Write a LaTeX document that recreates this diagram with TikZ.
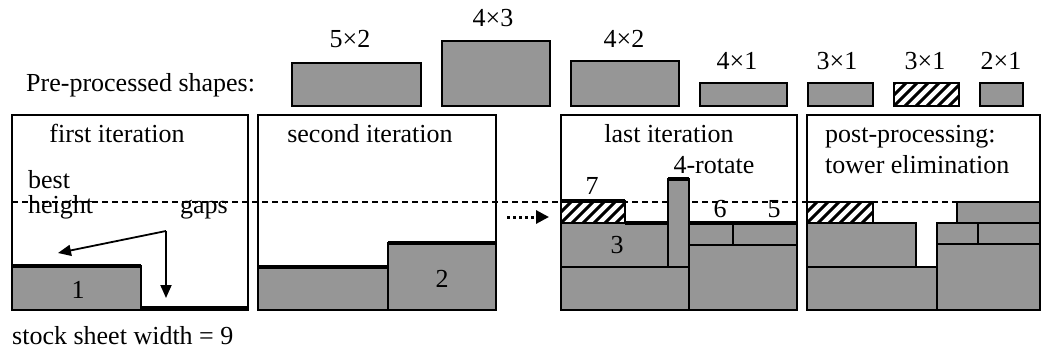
\documentclass[tikz,border=0pt]{standalone}
\usepackage{fontspec}
\setmainfont{Liberation Serif}
\usetikzlibrary{arrows.meta}
\definecolor{boxgray}{RGB}{150,150,150}
\tikzset{
  box/.style={fill=boxgray, draw=black, line width=1.6pt},
  panel/.style={draw=black, fill=white, line width=1.8pt},
  thickedge/.style={line width=4.5pt, line cap=butt},
  lbl/.style={inner sep=0pt, anchor=base, font=\fontsize{26}{30}\selectfont},
  lblw/.style={lbl, anchor=base west},
  bestline/.style={dash pattern=on 6pt off 4pt, line width=1.3pt},
  arr/.style={line width=1.8pt, -{Triangle[length=13pt,width=11pt]}},
  dotarr/.style={line width=3pt, dash pattern=on 3pt off 3pt, -{Triangle[length=13pt,width=13pt]}},
}
\newcommand\hatchbox[4]{%
  \fill[white] (#1,#2) rectangle (#3,#4);
  \begin{scope}
    \clip (#1,#2) rectangle (#3,#4);
    \foreach \k in {-44,-33,...,88} \draw[line width=3pt] ({#1+\k},#4) -- ++(26,-26);
  \end{scope}
  \draw[line width=1.6pt] (#1,#2) rectangle (#3,#4);
}
\begin{document}
\begin{tikzpicture}[x=1pt,y=-1pt]
\useasboundingbox (0,0) rectangle (1042,348);
\fill[white] (0,0) rectangle (1042,348);

% ---- pre-processed shapes row
\node[lblw] (pre) at (26,91) {Pre-processed shapes:};
\draw[box] (292,63) rectangle (421,106);
\draw[box] (442,41) rectangle (550,106);
\draw[box] (571,61) rectangle (679,106);
\draw[box] (700,83) rectangle (787,106);
\draw[box] (808,83) rectangle (873,106);
\hatchbox{894}{83}{959}{106}
\draw[box] (980,83) rectangle (1023,106);
\node[lbl] (s52) at (350,47) {5×2};
\node[lbl] (s43) at (493,26) {4×3};
\node[lbl] (s42) at (624,47) {4×2};
\node[lbl] (s41) at (737,69) {4×1};
\node[lbl] (s31) at (837,69) {3×1};
\node[lbl] (s31h) at (925,69) {3×1};
\node[lbl] (s21) at (1001,69) {2×1};

% ---- panels
\draw[panel] (12,115) rectangle (248,310);
\draw[panel] (258,115) rectangle (496,310);
\draw[panel] (561,115) rectangle (797,310);
\draw[panel] (807,115) rectangle (1040,310);

% ---- best height dashed line
\draw[bestline] (12,202) -- (957,202);

% ---- panel 1
\draw[box] (12,266) rectangle (141,310);
\draw[thickedge] (12,266) -- (141,266);
\draw[thickedge] (141,308.5) -- (248,308.5);
\node[lbl] (n1) at (78,298) {1};
\node[lbl] (t1) at (117,142) {first iteration};
\node[lblw] (best) at (28,188) {best};
\node[lblw] (height) at (28,213) {height};
\node[lblw] (gaps) at (180,213) {gaps};
\coordinate (gsrc) at (166,231);
\coordinate (gbh) at (58,253);
\coordinate (ggap) at (166,298);
\draw[arr] (gsrc) -- (gbh);
\draw[arr] (gsrc) -- (ggap);

% ---- panel 2
\draw[box] (258,267) rectangle (388,310);
\draw[box] (388,243) rectangle (496,310);
\draw[thickedge] (258,267) -- (388,267);
\draw[thickedge] (388,243) -- (496,243);
\node[lbl] (n2) at (442,287) {2};
\node[lbl] (t2) at (370,142) {second iteration};

% ---- dotted arrow
\coordinate (dots) at (507,217);
\coordinate (dote) at (549,217);
\draw[dotarr] (dots) -- (dote);

% ---- panel 3
\draw[box] (561,267) rectangle (689,310);
\draw[box] (561,223) rectangle (668,267);
\draw[box] (668,179) rectangle (689,267);
\draw[box] (689,245) rectangle (797,310);
\draw[box] (689,223) rectangle (733,245);
\draw[box] (733,223) rectangle (797,245);
\hatchbox{561}{201}{625}{223}
\draw[thickedge] (561,201) -- (625,201);
\draw[thickedge] (625,223) -- (668,223);
\draw[thickedge] (668,179) -- (689,179);
\draw[thickedge] (689,223) -- (797,223);
\node[lbl] (t3) at (669,142) {last iteration};
\node[lbl] (n7) at (592,194) {7};
\node[lbl] (n3) at (617,253) {3};
\node[lbl] (n4) at (714,173) {4-rotate};
\node[lbl] (n6) at (720,217) {6};
\node[lbl] (n5) at (774,217) {5};

% ---- panel 4
\draw[box] (807,267) rectangle (937,310);
\draw[box] (807,223) rectangle (916,267);
\hatchbox{807}{202}{873}{223}
\draw[box] (937,244) rectangle (1040,310);
\draw[box] (937,223) rectangle (978,244);
\draw[box] (978,223) rectangle (1040,244);
\draw[box] (957,202) rectangle (1040,223);
\node[lblw] (t4a) at (825,142) {post-processing:};
\node[lblw] (t4b) at (825,173) {tower elimination};

% ---- footer
\node[lblw] (stock) at (12,344) {stock sheet width = 9};
\end{tikzpicture}
\end{document}
